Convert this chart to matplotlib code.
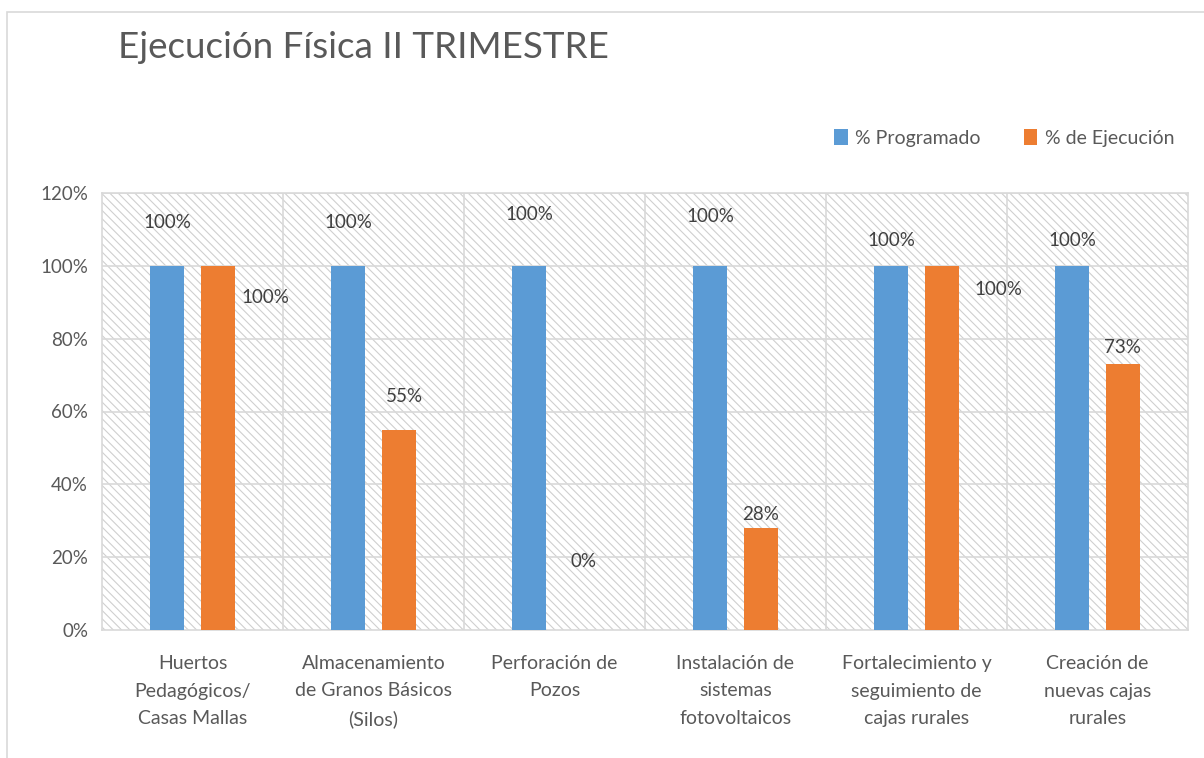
import matplotlib
matplotlib.use("Agg")
import matplotlib.pyplot as plt
from matplotlib.patches import Rectangle, Patch
import numpy as np

plt.rcParams["font.family"] = ["Lato", "DejaVu Sans"]
plt.rcParams["hatch.linewidth"] = 0.8

# data
categories = [
    "Huertos\nPedagógicos/\nCasas Mallas",
    "Almacenamiento\nde Granos Básicos\n(Silos)",
    "Perforación de\nPozos",
    "Instalación de\nsistemas\nfotovoltaicos",
    "Fortalecimiento y\nseguimiento de\ncajas rurales",
    "Creación de\nnuevas cajas\nrurales",
]
programado = [100, 100, 100, 100, 100, 100]
ejecucion = [100, 55, 0, 28, 100, 73]
y_ticks = [0, 20, 40, 60, 80, 100, 120]
y_ticklabels = ["0%", "20%", "40%", "60%", "80%", "100%", "120%"]

# where Excel dropped the data labels
lbl_prog_y = [112, 112, 114, 113.5, 107, 107]
lbl_ejec_dx = [0.26, 0.03, 0.02, 0.0, 0.31, 0.0]
lbl_ejec_y = [91.3, 64, 18.7, 31.6, 93.4, 77.7]

BLUE = "#5B9BD5"
ORANGE = "#ED7D31"
GRID = "#d9d9d9"

fig = plt.figure(figsize=(12.04, 7.58), dpi=100)
ax = fig.add_axes([102 / 1204, 1 - 630 / 758, (1188 - 102) / 1204, (630 - 193) / 758])

x = np.arange(len(categories))
w = 0.19
off = 0.14

# hatched background
ax.add_patch(Rectangle((0, 0), 1, 1, transform=ax.transAxes, facecolor="white",
                       edgecolor="#cfcfcf", hatch="\\\\\\\\", lw=0, zorder=0))

for t in y_ticks[1:]:
    ax.axhline(t, color=GRID, lw=1.2, zorder=1)
for b in np.arange(0.5, len(categories) - 1, 1):
    ax.axvline(b, color=GRID, lw=1.2, zorder=1)

ax.bar(x - off, programado, width=w, color=BLUE, zorder=3, label="% Programado")
ax.bar(x + off, ejecucion, width=w, color=ORANGE, zorder=3, label="% de Ejecución")

for i in range(len(categories)):
    ax.text(x[i] - off, lbl_prog_y[i], f"{programado[i]}%", ha="center", va="center",
            fontsize=13.5, color="#404040", zorder=4)
    ax.text(x[i] + off + lbl_ejec_dx[i], lbl_ejec_y[i], f"{ejecucion[i]}%", ha="center",
            va="center", fontsize=13.5, color="#404040", zorder=4)

ax.set_xlim(-0.5, len(categories) - 0.5)
ax.set_ylim(0, 120)
ax.set_yticks(y_ticks)
ax.set_yticklabels(y_ticklabels)
ax.set_xticks(x)
ax.set_xticklabels(categories, linespacing=1.75)
ax.tick_params(axis="both", length=0, labelsize=13.5, colors="#595959")
ax.tick_params(axis="x", labelsize=14, pad=18)
ax.tick_params(axis="y", pad=10)
for s in ax.spines.values():
    s.set_color(GRID)
    s.set_linewidth(1.2)

# legend
handles = [Patch(facecolor=BLUE), Patch(facecolor=ORANGE)]
fig.legend(handles, ["% Programado", "% de Ejecución"], loc="center right",
           bbox_to_anchor=(1192 / 1204, 1 - 138 / 758), ncol=2, frameon=False,
           fontsize=14, handlelength=0.7, handleheight=0.9, handletextpad=0.4,
           columnspacing=2.2, labelcolor="#595959")

fig.text(118 / 1204, 1 - 58 / 758, "Ejecución Física II TRIMESTRE", fontsize=26.5,
         color="#595959", ha="left", va="baseline")

# chart border
fig.add_artist(Rectangle((7 / 1204, -0.1), 1.2, 1 - 12 / 758 + 0.1, transform=fig.transFigure,
                         fill=False, edgecolor="#d9d9d9", lw=1.2))

fig.savefig("out.png", dpi=100)
